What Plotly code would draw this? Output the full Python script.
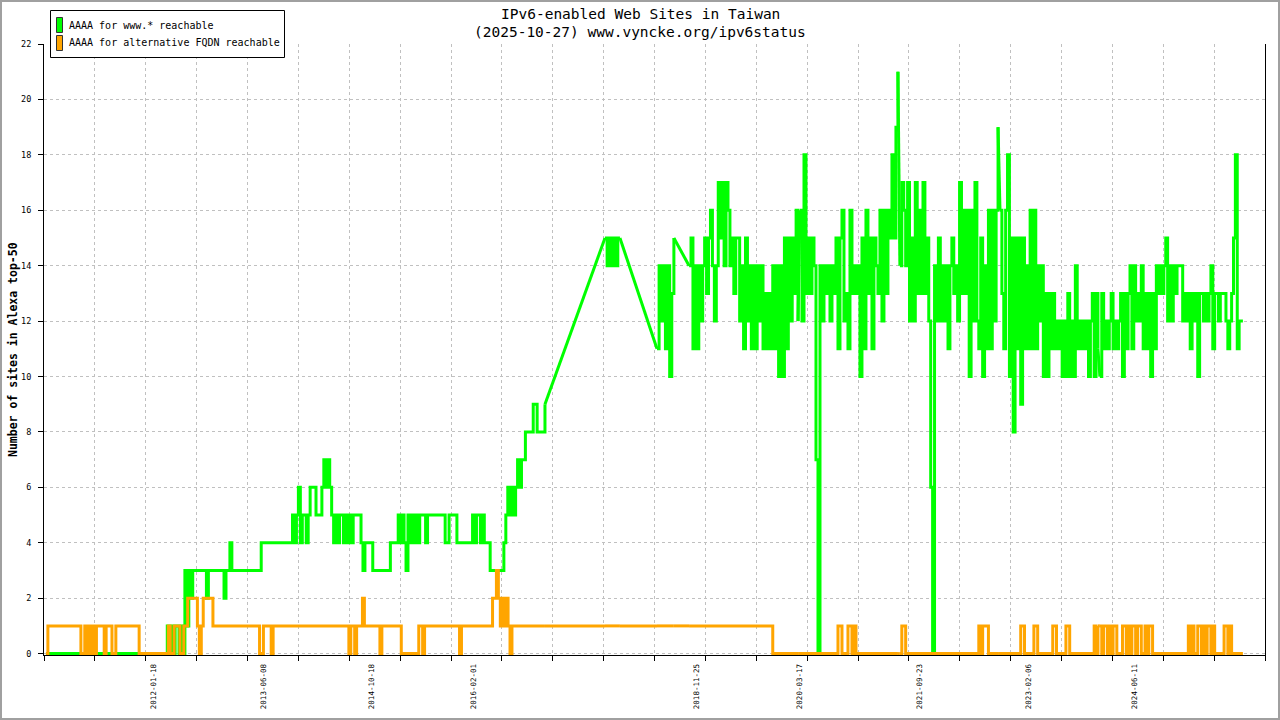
import pandas as pd
import plotly.graph_objects as go

# ---------------- data ----------------
# Observed data runs (start, end); straight lines join the gaps between runs
seg_starts = ["2010-09-07", "2017-09-30", "2018-05-28", "2018-10-23",
              "2020-03-18", "2021-06-22", "2022-09-27", "2024-01-01"]
seg_ends = ["2016-12-27", "2017-12-08", "2018-08-14", "2020-03-09",
            "2021-06-13", "2022-09-18", "2023-12-23", "2025-10-22"]

# AAAA for www.* reachable
green_a = ([0]*62 + [1, 0, 1, 0, 1, 1, 0, 1, 0] + [3, 1, 3, 2] + [3]*7 + [2] + [3]*8
           + [2, 3] + [3] + [4] + [3]*15 + [4]*16 + [5, 4, 5] + [6, 4] + [5, 5, 4]
           + [5, 6, 6, 6, 5] + [5, 5, 6] + [7, 6, 7] + [6, 5] + [4, 5, 4, 5]
           + [5, 4, 5, 4, 5, 4, 5, 5, 5, 5, 4] + [3, 4] + [4, 4, 4] + [3]*9 + [4]*4
           + [5, 4, 5, 4, 3, 5] + [4, 5, 4]
           + [5, 4, 5, 5, 5, 4, 5, 5, 5, 5, 5, 5, 5, 5, 5, 4, 4, 5, 5, 5, 5]
           + [4]*8 + [5, 4, 5, 5, 4, 5] + [4, 4, 4] + [3]*7 + [4, 5] + [6, 5, 6]
           + [5, 6] + [7, 6, 7, 7] + [8]*4 + [9, 9] + [8]*4 + [9])
green_b = [15, 14, 15, 14, 15, 14, 15, 15]
green_c = [11, 14, 12, 14, 11, 14, 10, 13, 15]
green_d1 = [14, 15, 11, 14, 11, 14, 12, 14, 15, 13, 15, 16, 14, 12, 14, 17, 15, 17, 14, 17,
            16, 14, 15, 13, 15, 15, 12, 14, 11, 15, 12, 14, 11, 14, 11, 14, 12, 14, 11,
            13, 11, 13, 11, 14, 11, 14, 10, 14, 10, 15, 11, 15, 12, 15, 13, 16, 12]
green_d2 = [16, 12, 18, 13, 15, 13, 15, 14, 7, 0, 14, 12, 14, 13, 14, 12, 14, 13, 15, 11,
            15, 16, 12, 13, 11, 16, 13, 14, 13, 14, 10, 15, 11, 16, 13, 15, 11, 15, 14, 13,
            16, 12, 16, 13, 16, 15, 18, 15, 19, 21]
green_d3 = [14, 17, 16, 14, 17, 12, 15, 12, 17, 13, 16, 13, 17, 13, 15, 12, 6, 0, 14, 12,
            15, 12, 14, 12, 14, 11, 14, 15, 13, 14, 12, 17, 13, 16, 13, 16, 10, 16, 12, 17,
            12, 11, 15, 10, 14, 11, 16, 11, 16, 12, 16, 19]
green_d4 = [16, 13, 11, 16, 18, 10, 15, 8, 15, 11, 15, 9, 15, 11, 14, 11, 16, 11, 16, 11,
            14, 12, 14, 10, 13, 10, 13, 11, 13, 11, 12, 11, 12, 10, 12, 10, 13, 10, 12, 10,
            14, 11, 12, 11, 12, 11, 12, 10, 12, 13, 10, 13, 11]
green_d5 = [10, 13, 11, 12, 11, 12, 13, 11, 12, 11, 12, 13, 10, 13, 11, 13, 14, 11, 14, 12,
            13, 12, 14, 11, 13, 11, 13, 10, 13, 11, 14, 13, 14, 13, 14, 15, 12, 14, 12, 14,
            13, 14, 14, 14, 12, 13, 12, 13, 11, 13, 12, 13, 10, 13, 13, 12, 13, 12, 13, 14,
            11, 13, 13, 12, 13, 13, 13, 12, 11, 12, 13, 15, 18, 11, 12, 12, 12]

# AAAA for alternative FQDN reachable
orange_a = ([0] + [1]*17 + [0, 0] + [1, 0, 1, 0, 1, 0] + [1]*4 + [0] + [1]*3 + [0, 0]
            + [1]*12 + [0]*15 + [1, 0, 0, 1, 1, 1, 0, 0, 1] + [1, 2] + [2]*4 + [1, 0, 1]
            + [2]*5 + [1]*24 + [0, 0] + [1]*4 + [0] + [1]*39 + [0] + [1, 1] + [0] + [1]*3
            + [2] + [1]*8 + [0] + [1]*10 + [0]*9 + [1, 1] + [0] + [1]*18 + [0] + [1]*16
            + [2, 2, 3, 2] + [1, 2, 1, 2] + [1] + [0] + [1]*18)
orange_b = [1]*8
orange_c = [1]*9
orange_d1 = [1]*43 + [0]*14
orange_d2 = [0]*19 + [1, 1] + [0]*3 + [1, 1, 0, 1] + [0]*22
orange_d3 = [0] + [1, 1] + [0]*38 + [1, 0, 1, 1, 1] + [0]*6
orange_d4 = ([0]*11 + [1, 1] + [0]*5 + [1, 1] + [0]*8 + [1, 1] + [0]*5 + [1, 1] + [0]*13
             + [1, 0, 1])
orange_d5 = ([1, 0, 1, 1, 0, 1, 0, 1, 1, 0] + [0, 0] + [1, 1, 0, 1, 0, 1, 1, 0, 1, 1] + [0, 0]
             + [1, 0, 1, 1] + [0]*19 + [1, 0, 1] + [0, 0] + [1, 1] + [0] + [1, 0, 1, 1, 0, 1]
             + [0]*5 + [1, 1, 0, 1] + [0]*7)

green_segments = [green_a, green_b, green_c, green_d1, green_d2, green_d3, green_d4, green_d5]
orange_segments = [orange_a, orange_b, orange_c, orange_d1, orange_d2, orange_d3, orange_d4, orange_d5]

tick_dates = ["2012-01-18", "2013-06-08", "2014-10-18", "2016-02-01", "2018-11-25",
              "2020-03-17", "2021-09-23", "2023-02-06", "2024-06-11"]
x_range = ["2010-08-29", "2026-02-01"]

series_names = ["AAAA for www.* reachable", "AAAA for alternative FQDN reachable"]
series_colors = ["#00ff00", "#ffa500"]


def build(segments):
    """Step runs (separated by None) and straight joins across the gaps between runs."""
    sx, sy, jx, jy = [], [], [], []
    prev = None
    for s, e, vals in zip(seg_starts, seg_ends, segments):
        d = list(pd.date_range(s, e, periods=len(vals)))
        if prev is not None:
            jx += [prev[0], d[0], None]
            jy += [prev[1], vals[0], None]
        sx += d + [None]
        sy += list(vals) + [None]
        prev = (d[-1], vals[-1])
    return sx, sy, jx, jy


MONO = "DejaVu Sans Mono"
fig = go.Figure()

for segs, col, name in zip([green_segments, orange_segments], series_colors, series_names):
    sx, sy, jx, jy = build(segs)
    fig.add_trace(go.Scatter(x=jx, y=jy, mode="lines", showlegend=False, name=name,
                             connectgaps=False, hoverinfo="skip",
                             line=dict(color=col, width=3, simplify=False)))
    fig.add_trace(go.Scatter(x=sx, y=sy, mode="lines", showlegend=False, name=name,
                             connectgaps=False,
                             line=dict(color=col, width=3, shape="hv", simplify=False)))

minor_vals = list(pd.date_range(x_range[0], x_range[1], periods=25))

W, H = 1280, 720
L, R, T, B = 44, 15, 44, 65
PW, PH = W - L - R, H - T - B


def px(x):
    return (x - L) / PW


def py(y):
    return (H - B - y) / PH


annotations = [
    dict(text="IPv6-enabled Web Sites in Taiwan", x=px(640), y=py(14)),
    dict(text="(2025-10-27) www.vyncke.org/ipv6status", x=px(640), y=py(32)),
]
for a in annotations:
    a.update(xref="paper", yref="paper", xanchor="center", yanchor="middle",
             showarrow=False, font=dict(family=MONO, size=14.5, color="black"))

annotations.append(dict(text="<b>Number of sites in Alexa top-50</b>", textangle=-90,
                        x=px(13), y=py(350), xref="paper", yref="paper",
                        xanchor="center", yanchor="middle", showarrow=False,
                        font=dict(family=MONO, size=11.5, color="black")))

# legend box drawn by hand to match the original layout
shapes = [dict(type="rect", xref="paper", yref="paper",
               x0=px(1), x1=px(1279), y0=py(719), y1=py(1),
               line=dict(color="#a0a0a0", width=2), layer="above"),
          dict(type="rect", xref="paper", yref="paper",
               x0=px(50.5), x1=px(284.5), y0=py(57.5), y1=py(10.5),
               line=dict(color="black", width=1), fillcolor="white", layer="above")]
for i, (name, col) in enumerate(zip(series_names, series_colors)):
    yc = 25 + 18 * i
    shapes.append(dict(type="rect", xref="paper", yref="paper",
                       x0=px(56.5), x1=px(62.5), y0=py(yc + 7.5), y1=py(yc - 7.5),
                       line=dict(color="#333333", width=1), fillcolor=col, layer="above"))
    annotations.append(dict(text=name, x=px(67), y=py(yc), xref="paper", yref="paper",
                            xanchor="left", yanchor="middle", showarrow=False,
                            font=dict(family=MONO, size=10, color="black")))

fig.update_layout(
    width=W, height=H,
    margin=dict(l=L, r=R, t=T, b=B),
    paper_bgcolor="white", plot_bgcolor="white",
    font=dict(family=MONO, color="black"),
    showlegend=False,
    xaxis=dict(type="date", range=x_range,
               tickmode="array", tickvals=tick_dates, ticktext=tick_dates,
               tickangle=-90, ticks="", ticklabelstandoff=5,
               tickfont=dict(family=MONO, size=7.5, color="black"),
               showgrid=False, zeroline=False,
               showline=True, linecolor="black", linewidth=1,
               minor=dict(tickmode="array", tickvals=minor_vals, ticks="outside",
                          ticklen=5, tickcolor="black", tickwidth=1,
                          showgrid=True, gridcolor="#c0c0c0", griddash="dot", gridwidth=1)),
    yaxis=dict(range=[-0.05, 22], tickmode="linear", tick0=0, dtick=2,
               ticks="outside", ticklen=5, tickcolor="black", ticklabelstandoff=5,
               tickfont=dict(family=MONO, size=8.5, color="black"),
               showgrid=True, gridcolor="#c0c0c0", griddash="dot", gridwidth=1,
               zeroline=False, showline=True, linecolor="black", linewidth=1,
               mirror=True),
    annotations=annotations,
    shapes=shapes,
)

fig.write_html("out.html", config={"displayModeBar": False},
               post_script="document.body.style.margin='0';")
